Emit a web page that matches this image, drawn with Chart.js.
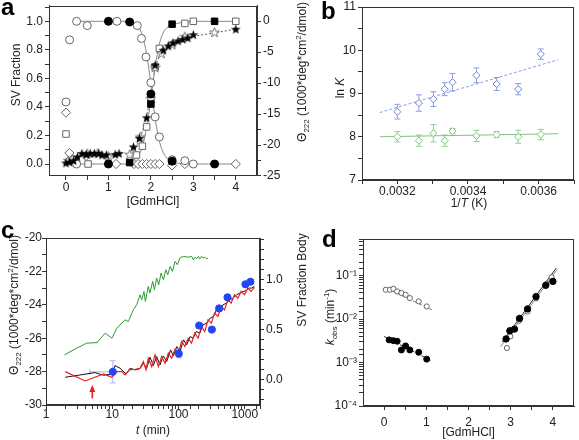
<!DOCTYPE html>
<html><head><meta charset="utf-8"><title>Figure</title>
<script src="https://cdn.jsdelivr.net/npm/chart.js@4.4.1/dist/chart.umd.min.js"></script>
<style>
html,body{margin:0;padding:0;background:#fff;}
#wrap{position:relative;width:579px;height:440px;overflow:hidden;font-family:"Liberation Sans",Arial,sans-serif;color:#222;}
canvas{position:absolute;left:0;top:0;}
.lbl{position:absolute;font-size:12px;white-space:nowrap;line-height:1;}
.rot{transform:translate(-50%,-50%) rotate(-90deg);}
.hc{transform:translate(-50%,-50%);}
.letter{position:absolute;font-weight:bold;font-size:24px;line-height:24px;color:#000;}
sub,sup{font-size:8px;line-height:0;}
</style></head>
<body>
<div id="wrap">
<canvas id="chartD" width="579" height="440"></canvas>
<canvas id="chartC" width="579" height="440"></canvas>
<canvas id="chartB" width="579" height="440"></canvas>
<canvas id="chartA" width="579" height="440"></canvas>
<div class="letter" style="left:1px;top:-5px">a</div>
<div class="letter" style="left:321px;top:-1px">b</div>
<div class="letter" style="left:1px;top:218px">c</div>
<div class="letter" style="left:322px;top:227px">d</div>
<div class="lbl rot" style="left:16px;top:75px">SV Fraction</div>
<div class="lbl rot" style="left:302px;top:72px">Θ<sub>222</sub> (1000*deg*cm<sup>2</sup>/dmol)</div>
<div class="lbl rot" style="left:340px;top:88px">ln <i>K</i></div>
<div class="lbl hc" style="left:469px;top:203px">1/<i>T</i> (K)</div>
<div class="lbl rot" style="left:14px;top:305px">Θ<sub>222</sub> (1000*deg*cm<sup>2</sup>/dmol)</div>
<div class="lbl hc" style="left:153px;top:430px"><i>t</i> (min)</div>
<div class="lbl rot" style="left:302px;top:280px">SV Fraction Body</div>
<div class="lbl rot" style="left:330px;top:317px"><i>k</i><sub>obs</sub> (min<sup>-1</sup>)</div>
</div>
<script>
// ================= DATA =================
// ---- Panel a : SV fractions (left axis) ----
const aOpenCircX = [0, 0.085, 0.25, 0.5, 1.2, 1.68, 1.78, 1.885, 2.0, 2.1, 2.2, 2.5, 2.8, 3.0, 0.25];
const aOpenCircY = [0.435, 0.87, 1.0, 0.97, 1.0, 0.97, 0.88, 0.75, 0.57, 0.33, 0.19, 0.03, 0.023, 0.0, 0.0];
const aFillCircX = [1.0, 1.5, 2.0, 2.5, 3.5, 1.0];
const aFillCircY = [1.0, 0.995, 0.49, 0.02, 0.0, 0.0];
const aOpenSqX = [0, 0.52, 1.66, 1.8, 1.9, 2.0, 2.1, 2.2, 2.8, 3.0, 4.0];
const aOpenSqY = [0.21, 0.0, 0.063, 0.125, 0.26, 0.45, 0.68, 0.81, 0.985, 1.0, 1.0];
const aFillSqX = [1.5, 2.0, 2.5, 3.5];
const aFillSqY = [0.01, 0.42, 0.98, 1.0];
const aDiamX = [0, 0.08, 0.47, 1.18, 1.6, 1.7, 1.8, 1.9, 2.0, 2.1, 2.2, 2.5, 2.8, 4.0];
const aDiamY = [0.36, 0.077, 0.056, 0, 0, 0, 0, 0, 0, 0, 0, -0.01, 0, 0];
// fitted curves
const aFallX = [0.25, 1.5, 1.6, 1.7, 1.8, 1.9, 2.0, 2.1, 2.2, 2.3, 2.4, 2.5, 2.7, 3.0, 4.0];
const aFallY = [1.0, 1.0, 0.99, 0.965, 0.9, 0.77, 0.56, 0.32, 0.16, 0.075, 0.035, 0.015, 0.004, 0, 0];
const aRiseX = [0.25, 1.5, 1.6, 1.7, 1.8, 1.9, 2.0, 2.1, 2.2, 2.3, 2.4, 2.5, 2.7, 3.0, 4.0];
const aRiseY = [0, 0, 0.025, 0.06, 0.12, 0.26, 0.45, 0.68, 0.84, 0.925, 0.96, 0.975, 0.99, 1.0, 1.0];
// ---- Panel a : CD signal (right axis) ----
const aStarFX = [0, 0.08, 0.18, 0.27, 0.375, 0.48, 0.57, 0.67, 0.77, 0.85, 0.95, 1.16, 1.25, 1.59, 1.73, 1.9, 2.1, 2.29, 2.41, 2.52, 2.64, 2.75, 2.87, 3.0, 4.0];
const aStarFY = [-22.9, -22.75, -22.5, -21.9, -21.35, -21.5, -21.35, -21.35, -21.35, -21.6, -21.6, -21.5, -21.35, -20.3, -18.9, -15.6, -7.1, -4.7, -4.0, -3.5, -3.2, -2.95, -2.7, -2.2, -1.3];
const aStarOX = [0.05, 0.15, 0.5, 0.75, 1.0, 1.5, 1.75, 2.0, 2.1, 2.25, 2.5, 2.8, 3.5];
const aStarOY = [-22.5, -22.3, -21.4, -21.3, -21.8, -21.5, -18.7, -12.5, -7.5, -5.2, -3.8, -2.5, -1.8];
const aStarFitX = [1.5, 1.6, 1.7, 1.8, 1.9, 2.0, 2.1, 2.2, 2.3, 2.5, 2.7, 3.0, 3.5, 4.0];
const aStarFitY = [-21.4, -20.8, -19.6, -17.8, -15.3, -11.5, -7.8, -5.6, -4.6, -3.7, -3.1, -2.5, -1.9, -1.3];
// tick positions and labelled ticks
const aXTickPos = [0, 0.5, 1, 1.5, 2, 2.5, 3, 3.5, 4];
const aXTicks = [0, 1, 2, 3, 4];
const aYTickPos = [0, 0.1, 0.2, 0.3, 0.4, 0.5, 0.6, 0.7, 0.8, 0.9, 1.0, 1.1];
const aYTicks = [0.2, 0.4, 0.6, 0.8, 1.0];
const aYZeroTick = [0.0];              // drawn by the axisExtra plugin
const aYZeroLabel = ['0.0'];
const aY2TickPos = [-25, -22.5, -20, -17.5, -15, -12.5, -10, -7.5, -5, -2.5, 0];
const aY2Ticks = [0, -5, -10, -15, -20, -25];

// ---- Panel b ----
const bInvT = [0.003200, 0.003261, 0.003302, 0.003334, 0.003356, 0.003424, 0.003481, 0.003542, 0.003606];
const bBlue = [8.58, 8.78, 8.87, 9.1, 9.26, 9.42, 9.22, 9.1, 9.91];
const bBlueErr = [0.17, 0.19, 0.17, 0.15, 0.2, 0.17, 0.15, 0.13, 0.12];
const bGreen = [8.0, 7.91, 8.08, 7.91, 8.13, 8.02, 8.05, 8.0, 8.05];
const bGreenErr = [0.12, 0.13, 0.2, 0.13, 0.06, 0.13, 0.07, 0.15, 0.12];
const bFitX = [0.00315, 0.003655];
const bBlueFit = [8.56, 9.78];
const bGreenFit = [8.0, 8.07];
const bXTickPos = [0.0031, 0.0032, 0.0033, 0.0034, 0.0035, 0.0036, 0.0037];
const bXTicks = [0.0032, 0.0034, 0.0036];
const bXLabels = ['0.0032', '0.0034', '0.0036'];
const bYTickPos = [7, 7.5, 8, 8.5, 9, 9.5, 10, 10.5, 11];
const bYTicks = [7, 8, 9, 10, 11];

// ---- Panel c ----
const cGreenT = [1.9, 2.9, 4.1, 5.9, 7.8, 9.9, 11.7, 15.6, 17.5, 20.8, 23.4, 26.3, 27.9, 30.1, 31.6, 35, 37, 40.8, 43.3, 46.9, 50.3, 54.6, 59.3, 64.3, 68.9, 74.7, 80.9, 88.8, 96, 105, 118, 140, 158, 167, 178, 188, 199, 210, 222, 236, 250, 265, 280];
const cGreenV = [-27.0, -26.6, -26.3, -26.26, -25.7, -26.0, -25.4, -24.9, -25.0, -24.3, -24.0, -23.4, -23.7, -23.2, -23.8, -22.9, -23.3, -22.6, -23.1, -22.4, -22.8, -22.1, -22.5, -21.9, -22.2, -21.7, -22.0, -21.4, -21.6, -21.2, -21.1, -21.15, -21.1, -21.3, -21.15, -21.25, -21.1, -21.25, -21.1, -21.2, -21.15, -21.25, -21.2];
const cBlackT = [1.95, 5.5, 7.4, 9.86, 11, 13.1, 16.2, 18.6, 22.2, 26.3, 29.5, 33, 37.2, 41.7, 46.8, 52.6, 59, 66.4, 76, 83.6, 94, 105.5, 118.7, 133, 150, 166, 185, 210, 235, 266, 300, 335, 375, 420, 470, 530, 600, 668, 750, 844, 950, 1060, 1160, 1260, 1400];
const cBlackV = [-28.34, -28.06, -28.22, -28.14, -27.64, -27.8, -28.14, -27.8, -27.9, -27.82, -27.5, -27.8, -27.14, -27.64, -27.1, -27.6, -27.06, -27.4, -26.7, -27.06, -26.5, -26.8, -26.1, -26.4, -25.9, -26.0, -25.6, -25.7, -25.2, -25.1, -24.8, -24.7, -24.3, -24.3, -24.0, -23.9, -23.7, -23.6, -23.4, -23.3, -23.2, -23.15, -23.0, -23.0, -22.9];
const cRedT = [1.95, 3.9, 7.4, 9.86, 11.7, 13.9, 15.6, 18.2, 22.2, 26.3, 29.5, 32.4, 35, 39.4, 44.2, 49.7, 55.7, 62.6, 70.3, 78.9, 88.6, 99.5, 111.6, 125, 140, 157, 176, 198, 222, 249, 279, 313, 351, 394, 442, 496, 556, 624, 700, 786, 882, 990, 1110, 1245, 1400];
const cRedV = [-28.0, -28.56, -28.14, -28.34, -28.0, -28.0, -28.2, -27.9, -27.86, -27.8, -27.4, -27.9, -27.2, -27.7, -27.0, -27.7, -27.1, -27.5, -26.9, -27.2, -26.66, -26.9, -26.2, -26.5, -26.0, -26.3, -25.7, -26.0, -25.3, -25.6, -24.9, -25.1, -24.5, -24.7, -24.1, -24.3, -23.7, -23.9, -23.4, -23.6, -23.2, -23.4, -23.0, -23.2, -22.95];
const cSVT = [10.2, 101, 205, 319, 411, 549, 1025, 1218];
const cSV = [0.08, 0.26, 0.54, 0.50, 0.71, 0.82, 0.95, 0.975];
const cSVErr = [0.11, 0.04, 0.02, 0.02, 0.02, 0.02, 0.02, 0.02];
const cSVTLow = [4.6, null, null, null, null, null, null, null];
const cArrowT = [5];
const cArrowFrom = [-29.6];
const cArrowTo = [-28.8];
const cXTicks = [1, 10, 100, 1000];
const cYTickPos = [-30, -29, -28, -27, -26, -25, -24, -23, -22, -21, -20];
const cYTicks = [-20, -22, -24, -26, -28, -30];
const cY2TickPos = [-0.2, -0.1, 0, 0.1, 0.2, 0.3, 0.4, 0.5, 0.6, 0.7, 0.8, 0.9, 1.0, 1.1, 1.2, 1.3, 1.4];
const cY2Ticks = [0.0, 0.5, 1.0];

// ---- Panel d ----
const dOpenLX = [0.04, 0.14, 0.22, 0.31, 0.41, 0.51, 0.61, 0.82, 1.01];
const dOpenLY = [0.0475, 0.0475, 0.050, 0.0435, 0.040, 0.0364, 0.0305, 0.0257, 0.0196];
const dFillLX = [0.12, 0.22, 0.31, 0.41, 0.51, 0.61, 0.82, 1.01];
const dFillLY = [0.00333, 0.0032, 0.0031, 0.00195, 0.00242, 0.00195, 0.00173, 0.0012];
const dOpenRX = [2.91, 2.99, 3.2, 3.4, 3.6, 3.85, 3.97];
const dOpenRY = [0.00216, 0.0040, 0.0092, 0.015, 0.030, 0.065, 0.092];
const dFillRX = [2.89, 2.98, 3.09, 3.21, 3.40, 3.60, 3.83, 4.0];
const dFillRY = [0.0035, 0.0054, 0.0059, 0.0104, 0.0172, 0.033, 0.060, 0.074];
const dFitOLX = [0.04, 1.13], dFitOLY = [0.052, 0.0164];
const dFitFLX = [0.0, 1.13], dFitFLY = [0.00398, 0.00109];
const dFitFRX = [2.80, 4.08], dFitFRY = [0.0030, 0.15];
const dFitORX = [2.76, 4.10], dFitORY = [0.0023, 0.138];
const dXTickPos = [0, 0.5, 1, 1.5, 2, 2.5, 3, 3.5, 4];
const dXTicks = [0, 1, 2, 3, 4];
const dYTicks = [1e-4, 1e-3, 1e-2, 1e-1];
const dYLabels = ['10\u207B\u2074', '10\u207B\u00B3', '10\u207B\u00B2', '10\u207B\u00B9'];

// ================= HELPERS =================
Chart.defaults.font.family = '"Liberation Sans", Arial, sans-serif';
Chart.defaults.font.size = 12;
Chart.defaults.color = '#222';

const pts = (xs, ys) => xs.map((x, i) => ({x: x, y: ys[i]}));
function near(a, b) { return Math.abs(a - b) <= 1e-6 * Math.max(Math.abs(a), Math.abs(b)) + 1e-12; }
function labelsFrom(vals, labs, fmt) {
  return function (v) {
    const i = vals.findIndex(t => near(t, v));
    if (i < 0) return '';
    if (labs) return labs[i];
    return fmt ? fmt(vals[i]) : String(vals[i]);
  };
}
function useTicks(list) { return s => { s.ticks = list.map(v => ({value: v})); }; }
function fixW(w) { return s => { s.width = w; s.paddingTop = 0; s.paddingBottom = 0; s.paddingLeft = 0; s.paddingRight = 0; }; }
function fixH(h) { return s => { s.height = h; s.paddingTop = 0; s.paddingBottom = 0; s.paddingLeft = 0; s.paddingRight = 0; }; }
function axis(o) {
  const base = {
    grid: {drawOnChartArea: false, tickLength: 4, color: '#333', tickColor: '#333', lineWidth: 1},
    border: {display: true, color: '#333', width: 1},
  };
  const t = Object.assign({autoSkip: false, includeBounds: false, maxRotation: 0, minRotation: 0, color: '#222', padding: 0, font: {size: 12}}, o.ticks || {});
  const r = Object.assign(base, o);
  r.ticks = t;
  if (o.grid) r.grid = Object.assign({}, base.grid, o.grid);
  return r;
}
function makeStar(filled) {
  const c = document.createElement('canvas'); c.width = 11; c.height = 11;
  const g = c.getContext('2d'); g.beginPath();
  for (let i = 0; i < 10; i++) {
    const r = i % 2 ? 2.1 : 5.1, a = -Math.PI / 2 + i * Math.PI / 5;
    const x = 5.5 + r * Math.cos(a), y = 5.9 + r * Math.sin(a);
    if (i) g.lineTo(x, y); else g.moveTo(x, y);
  }
  g.closePath();
  if (filled) { g.fillStyle = '#000'; g.fill(); }
  else { g.fillStyle = '#fff'; g.fill(); g.strokeStyle = '#666'; g.lineWidth = 0.9; g.stroke(); }
  return c;
}
const starFilled = makeStar(true), starOpen = makeStar(false);

const framePlugin = {id: 'frame', afterDraw(chart) {
  const a = chart.chartArea, ctx = chart.ctx;
  ctx.save(); ctx.strokeStyle = '#333'; ctx.lineWidth = 1;
  ctx.strokeRect(Math.round(a.left) + 0.5, Math.round(a.top) + 0.5, Math.round(a.right - a.left) - 1, Math.round(a.bottom - a.top) - 1);
  ctx.restore();
}};
// draws the "0.0" label of panel a's left axis through the y scale
const axisExtra = {id: 'axisExtra', afterDraw(chart) {
  const s = chart.scales.y, ctx = chart.ctx;
  ctx.save();
  ctx.font = '12px "Liberation Sans", Arial, sans-serif';
  ctx.fillStyle = '#222'; ctx.textAlign = 'right'; ctx.textBaseline = 'middle';
  aYZeroTick.forEach((v, k) => ctx.fillText(aYZeroLabel[k], s.right - 6, s.getPixelForValue(v)));
  ctx.restore();
}};
const errorBars = {id: 'errorBars', beforeDatasetsDraw(chart) {
  const ctx = chart.ctx;
  chart.data.datasets.forEach((ds, i) => {
    if (!ds.errY) return;
    const meta = chart.getDatasetMeta(i);
    const ys = chart.scales[meta.yAxisID], xs = chart.scales[meta.xAxisID];
    ctx.save(); ctx.strokeStyle = ds.errColor; ctx.lineWidth = 1;
    meta.data.forEach((pt, j) => {
      const v = ds.data[j].y, e = ds.errY[j];
      const y1 = ys.getPixelForValue(v + e), y0 = ys.getPixelForValue(v - e);
      ctx.beginPath();
      ctx.moveTo(pt.x, y0); ctx.lineTo(pt.x, y1);
      ctx.moveTo(pt.x - 3, y0); ctx.lineTo(pt.x + 3, y0);
      ctx.moveTo(pt.x - 3, y1); ctx.lineTo(pt.x + 3, y1);
      if (ds.errXLow && ds.errXLow[j] != null) {
        const xl = xs.getPixelForValue(ds.errXLow[j]);
        ctx.moveTo(xl, pt.y); ctx.lineTo(pt.x, pt.y);
        ctx.moveTo(xl, pt.y - 3); ctx.lineTo(xl, pt.y + 3);
      }
      ctx.stroke();
    });
    ctx.restore();
  });
}};
const arrowPlugin = {id: 'arrow', afterDatasetsDraw(chart) {
  const xs = chart.scales.x, ys = chart.scales.y, ctx = chart.ctx;
  cArrowT.forEach((t, k) => {
    const x = xs.getPixelForValue(t), y0 = ys.getPixelForValue(cArrowFrom[k]), y1 = ys.getPixelForValue(cArrowTo[k]);
    ctx.save(); ctx.strokeStyle = '#e8201c'; ctx.fillStyle = '#e8201c'; ctx.lineWidth = 1.6;
    ctx.beginPath(); ctx.moveTo(x, y0); ctx.lineTo(x, y1 + 5); ctx.stroke();
    ctx.beginPath(); ctx.moveTo(x, y1); ctx.lineTo(x - 3, y1 + 7); ctx.lineTo(x + 3, y1 + 7); ctx.closePath(); ctx.fill();
    ctx.restore();
  });
}};
const common = (pad) => ({
  responsive: false, animation: false, devicePixelRatio: 1,
  layout: {padding: pad},
  plugins: {legend: {display: false}, tooltip: {enabled: false}},
});
const mk = (o) => Object.assign({showLine: false, borderWidth: 1}, o);
const ln = (o) => Object.assign({showLine: true, pointRadius: 0, borderWidth: 1, tension: 0, fill: false}, o);

// ================= PANEL A =================
(function () {
  const gray = '#666';
  const opts = common({left: 0, top: 5, right: 292, bottom: 231});
  opts.scales = {
    x: axis({type: 'linear', position: 'bottom', min: -0.4, max: 4.5,
      ticks: {callback: labelsFrom(aXTicks)}, afterBuildTicks: useTicks(aXTickPos), afterFit: fixH(33),
      title: {display: true, text: '[GdmHCl]', padding: {top: 0, bottom: 0}, font: {size: 12}, color: '#222'}}),
    y: axis({type: 'linear', position: 'left', min: -0.084, max: 1.11,
      ticks: {padding: 2, callback: labelsFrom(aYTicks, null, v => v.toFixed(1))}, afterBuildTicks: useTicks(aYTickPos), afterFit: fixW(49)}),
    y2: axis({type: 'linear', position: 'right', min: -25, max: 2.5,
      ticks: {padding: 2, callback: labelsFrom(aY2Ticks)}, afterBuildTicks: useTicks(aY2TickPos), afterFit: fixW(30)}),
  };
  new Chart(document.getElementById('chartA'), {
    type: 'scatter',
    data: {datasets: [
      mk({label: 'filled circles', data: pts(aFillCircX, aFillCircY), pointStyle: 'circle', pointRadius: 4, backgroundColor: '#000', borderColor: '#000', yAxisID: 'y'}),
      mk({label: 'filled squares', data: pts(aFillSqX, aFillSqY), pointStyle: 'rect', pointRadius: 4.6, backgroundColor: '#000', borderColor: '#000', yAxisID: 'y'}),
      mk({label: 'filled stars', data: pts(aStarFX, aStarFY), pointStyle: starFilled, yAxisID: 'y2'}),
      mk({label: 'open stars', data: pts(aStarOX, aStarOY), pointStyle: starOpen, yAxisID: 'y2'}),
      mk({label: 'open circles', data: pts(aOpenCircX, aOpenCircY), pointStyle: 'circle', pointRadius: 4, backgroundColor: '#fff', borderColor: gray, yAxisID: 'y'}),
      mk({label: 'open squares', data: pts(aOpenSqX, aOpenSqY), pointStyle: 'rect', pointRadius: 4.6, backgroundColor: '#fff', borderColor: gray, yAxisID: 'y'}),
      mk({label: 'open diamonds', data: pts(aDiamX, aDiamY), pointStyle: 'rectRot', pointRadius: 4.6, backgroundColor: '#fff', borderColor: gray, yAxisID: 'y'}),
      ln({label: 'fit native', data: pts(aFallX, aFallY), borderColor: '#888', cubicInterpolationMode: 'monotone', yAxisID: 'y'}),
      ln({label: 'fit unfolded', data: pts(aRiseX, aRiseY), borderColor: '#888', cubicInterpolationMode: 'monotone', yAxisID: 'y'}),
      ln({label: 'CD fit', data: pts(aStarFitX, aStarFitY), borderColor: '#555', borderDash: [2, 2], cubicInterpolationMode: 'monotone', yAxisID: 'y2'}),
    ]},
    options: opts, plugins: [framePlugin, axisExtra]
  });
})();

// ================= PANEL B =================
(function () {
  const blue = '#6f83d8', green = '#7cc47c';
  const opts = common({left: 330, top: 7, right: 2, bottom: 235});
  opts.scales = {
    x: axis({type: 'linear', position: 'bottom', min: 0.0031, max: 0.0037,
      ticks: {callback: labelsFrom(bXTicks, bXLabels)}, afterBuildTicks: useTicks(bXTickPos), afterFit: fixH(25)}),
    y: axis({type: 'linear', position: 'left', min: 7, max: 11,
      ticks: {padding: 2, callback: labelsFrom(bYTicks)}, afterBuildTicks: useTicks(bYTickPos), afterFit: fixW(32)}),
  };
  new Chart(document.getElementById('chartB'), {
    type: 'scatter',
    data: {datasets: [
      mk({label: 'blue', data: pts(bInvT, bBlue), errY: bBlueErr, errColor: '#8d9ce0', pointStyle: 'rectRot', pointRadius: 3.6, backgroundColor: '#fff', borderColor: blue}),
      mk({label: 'green', data: pts(bInvT, bGreen), errY: bGreenErr, errColor: '#94cf94', pointStyle: 'rectRot', pointRadius: 3.6, backgroundColor: '#fff', borderColor: green}),
      ln({label: 'blue fit', data: pts(bFitX, bBlueFit), borderColor: '#8d9ce0', borderDash: [3, 2]}),
      ln({label: 'green fit', data: pts(bFitX, bGreenFit), borderColor: green}),
    ]},
    options: opts, plugins: [framePlugin, errorBars]
  });
})();

// ================= PANEL C =================
(function () {
  const opts = common({left: 0, top: 238, right: 289, bottom: 5});
  opts.scales = {
    x: axis({type: 'logarithmic', position: 'bottom', min: 1, max: 1700,
      ticks: {padding: -2, callback: labelsFrom(cXTicks)}, afterFit: fixH(30)}),
    y: axis({type: 'linear', position: 'left', min: -30, max: -20,
      ticks: {padding: 0, callback: labelsFrom(cYTicks)}, afterBuildTicks: useTicks(cYTickPos), afterFit: fixW(46)}),
    y2: axis({type: 'linear', position: 'right', min: -0.25, max: 1.41,
      ticks: {padding: 2, callback: labelsFrom(cY2Ticks, null, v => v.toFixed(1))}, afterBuildTicks: useTicks(cY2TickPos), afterFit: fixW(30)}),
  };
  new Chart(document.getElementById('chartC'), {
    type: 'scatter',
    data: {datasets: [
      mk({label: 'SV fraction', data: pts(cSVT, cSV), errY: cSVErr, errXLow: cSVTLow, errColor: '#a9b6f0', pointStyle: 'circle', pointRadius: 3.6, backgroundColor: '#2346f5', borderColor: '#2346f5', yAxisID: 'y2'}),
      ln({label: 'red', data: pts(cRedT, cRedV), borderColor: '#e8231f', borderWidth: 1.2, yAxisID: 'y'}),
      ln({label: 'black', data: pts(cBlackT, cBlackV), borderColor: '#111', yAxisID: 'y'}),
      ln({label: 'green', data: pts(cGreenT, cGreenV), borderColor: '#2e9b2e', yAxisID: 'y'}),
    ]},
    options: opts, plugins: [framePlugin, errorBars, arrowPlugin]
  });
})();

// ================= PANEL D =================
(function () {
  const opts = common({left: 310, top: 239, right: 2, bottom: 0});
  opts.scales = {
    x: axis({type: 'linear', position: 'bottom', min: -0.5, max: 4.5,
      ticks: {padding: 5, callback: labelsFrom(dXTicks)}, afterBuildTicks: useTicks(dXTickPos), afterFit: fixH(34),
      title: {display: true, text: '[GdmHCl]', padding: {top: 0, bottom: 0}, font: {size: 12}, color: '#222'}}),
    y: axis({type: 'logarithmic', position: 'left', min: 1e-4, max: 0.7,
      ticks: {padding: 2, callback: labelsFrom(dYTicks, dYLabels)}, afterFit: fixW(53)}),
  };
  new Chart(document.getElementById('chartD'), {
    type: 'scatter',
    data: {datasets: [
      mk({label: 'filled low', data: pts(dFillLX, dFillLY), pointStyle: 'circle', pointRadius: 3, backgroundColor: '#000', borderColor: '#000'}),
      mk({label: 'filled high', data: pts(dFillRX, dFillRY), pointStyle: 'circle', pointRadius: 3.2, backgroundColor: '#000', borderColor: '#000'}),
      mk({label: 'open low', data: pts(dOpenLX, dOpenLY), pointStyle: 'circle', pointRadius: 2.6, backgroundColor: '#fff', borderColor: '#666'}),
      mk({label: 'open high', data: pts(dOpenRX, dOpenRY), pointStyle: 'circle', pointRadius: 2.6, backgroundColor: '#fff', borderColor: '#666'}),
      ln({label: 'fit open low', data: pts(dFitOLX, dFitOLY), borderColor: '#777', borderDash: [4, 2]}),
      ln({label: 'fit filled low', data: pts(dFitFLX, dFitFLY), borderColor: '#333', borderDash: [4, 2]}),
      ln({label: 'fit filled high', data: pts(dFitFRX, dFitFRY), borderColor: '#222'}),
      ln({label: 'fit open high', data: pts(dFitORX, dFitORY), borderColor: '#888'}),
    ]},
    options: opts, plugins: [framePlugin]
  });
})();
</script>
</body></html>
